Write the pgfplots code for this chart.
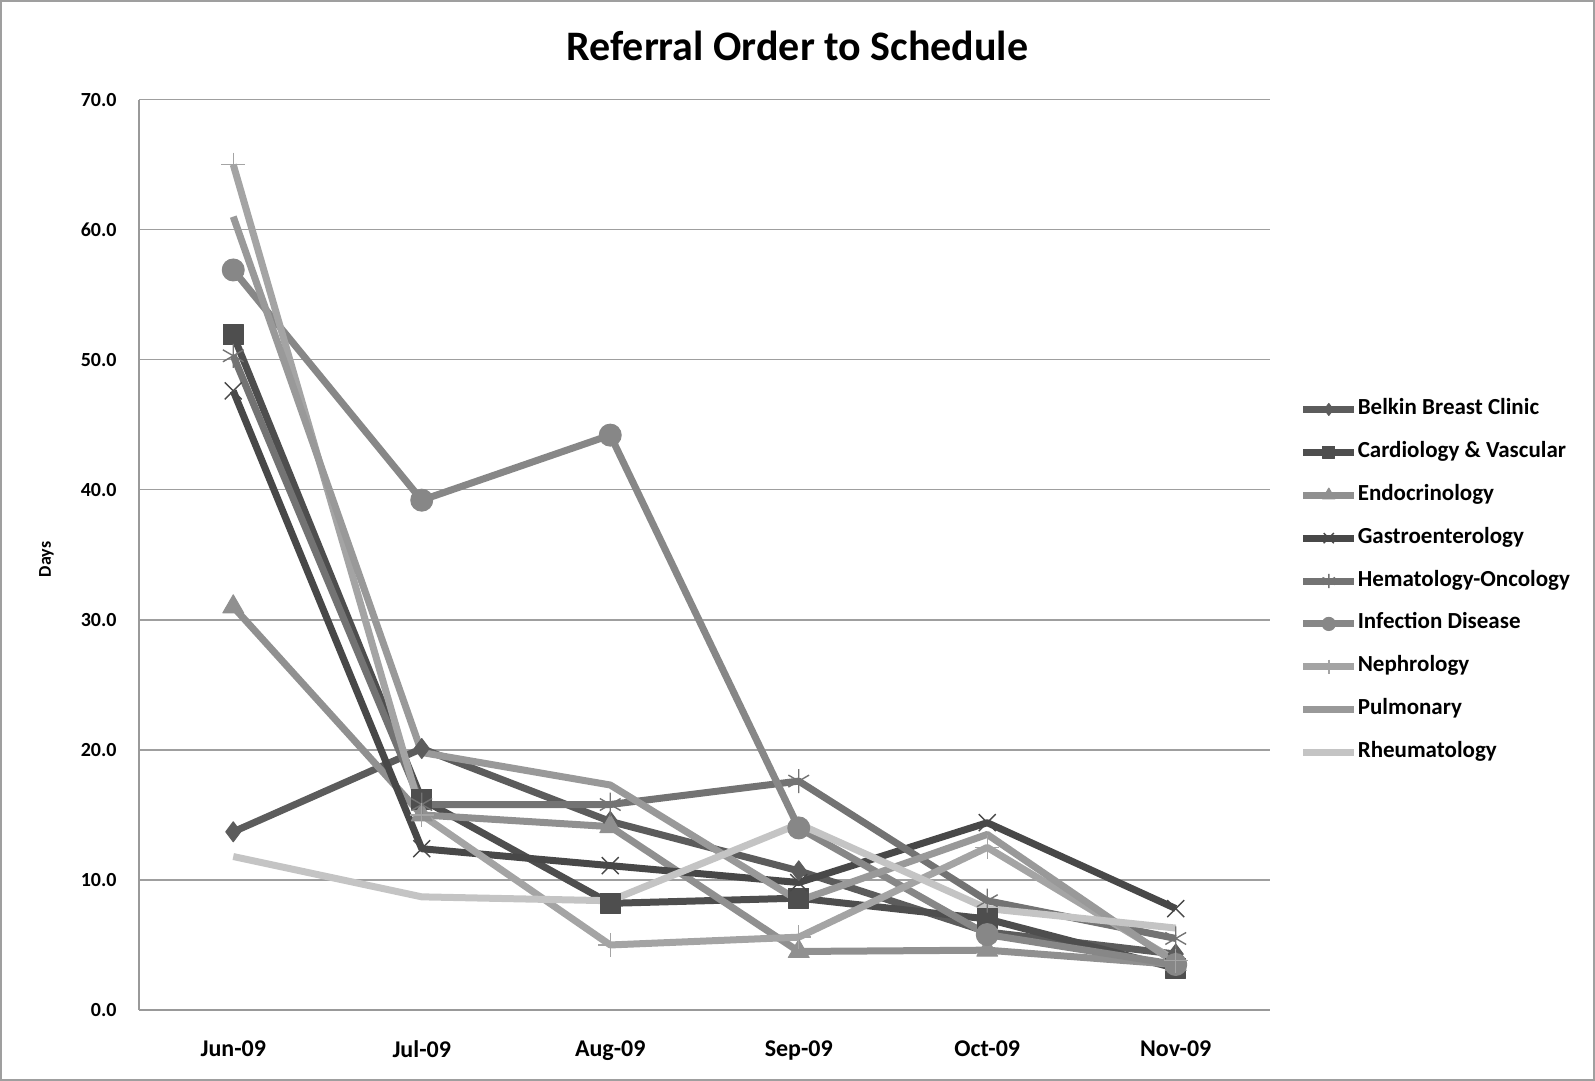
\documentclass[border=0pt]{standalone}
\usepackage{fontspec}
\setmainfont{Carlito}
\usepackage{pgfplots}
\pgfplotsset{compat=1.18}
\definecolor{cBel}{HTML}{5C5C5C}
\definecolor{cCar}{HTML}{4E4E4E}
\definecolor{cEnd}{HTML}{909090}
\definecolor{cGas}{HTML}{484848}
\definecolor{cHem}{HTML}{737373}
\definecolor{cInf}{HTML}{878787}
\definecolor{cNep}{HTML}{A4A4A4}
\definecolor{cPul}{HTML}{999999}
\definecolor{cRhe}{HTML}{C4C4C4}
\begin{document}
\begin{tikzpicture}[x=1pt,y=1pt]
\useasboundingbox (0,0) rectangle (797.5,540.5);
\draw[gray!75, line width=1pt] (0.5,0.5) rectangle (797,540);
\begin{axis}[
  at={(69.5pt,35.5pt)}, anchor=south west,
  scale only axis, width=565.5pt, height=455.2pt,
  xmin=-0.5, xmax=5.5, ymin=0, ymax=70,
  xtick={0,1,2,3,4,5},
  xticklabels={Jun-09,Jul-09,Aug-09,Sep-09,Oct-09,Nov-09},
  ytick={0,10,20,30,40,50,60,70},
  /pgf/number format/assume math mode=true,
  yticklabel={\pgfmathprintnumber[fixed,fixed zerofill,precision=1]{\tick}},
  yticklabel style={font=\bfseries\fontsize{10}{12}\selectfont, inner sep=0pt, xshift=-11pt},
  xticklabel style={font=\bfseries\fontsize{12}{14}\selectfont, inner sep=0pt, yshift=-15.2pt},
  major tick length=0pt,
  axis x line*=bottom, axis y line*=left,
  axis line style={gray!80, line width=0.8pt, -},
  ymajorgrids, grid style={gray!75, line width=0.7pt},
  ylabel={Days},
  ylabel style={font=\bfseries\fontsize{9}{11}\selectfont},
  every axis y label/.append style={at={(axis description cs:-0.0818,0.495)}, anchor=center},
  title={Referral Order to Schedule},
  title style={font=\bfseries\fontsize{21}{25}\selectfont, at={(axis description cs:0.5822,1.0457)}, anchor=center},
  legend style={at={(axis description cs:1.026,0.670)}, anchor=north west, draw=none, fill=none,
    inner sep=0pt, font=\bfseries\fontsize{11.5}{13}\selectfont, row sep=12.45pt,
    nodes={inner xsep=0pt, inner ysep=0pt, text height=7pt, text depth=2pt}},
  legend cell align=left,
  legend image code/.code={\draw[#1, mark repeat=2, mark phase=2, every mark/.append style={scale=0.6}] plot coordinates {(0pt,0pt) (12.75pt,0pt) (25.5pt,0pt)};},
  every axis plot/.append style={line width=3.5pt, line join=round},
]
\addplot[cBel, mark=diamond*, mark size=5pt, mark options={solid, fill=cBel, line width=0.5pt}] coordinates {(0,13.7) (1,20.1) (2,14.5) (3,10.7) (4,6.0) (5,4.3)};
\addlegendentry{Belkin Breast Clinic}
\addplot[cCar, mark=square*, mark size=5pt, mark options={solid, fill=cCar, line width=0.5pt}] coordinates {(0,51.9) (1,16.2) (2,8.2) (3,8.6) (4,7.0) (5,3.2)};
\addlegendentry{Cardiology \& Vascular}
\addplot[cEnd, mark=triangle*, mark size=6pt, mark options={solid, fill=cEnd, line width=0.5pt}] coordinates {(0,31.0) (1,15.0) (2,14.1) (3,4.5) (4,4.6) (5,3.5)};
\addlegendentry{Endocrinology}
\addplot[cGas, mark=x, mark size=6pt, mark options={solid, line width=0.7pt}] coordinates {(0,47.6) (1,12.4) (2,11.1) (3,9.8) (4,14.4) (5,7.8)};
\addlegendentry{Gastroenterology}
\addplot[cHem, mark=asterisk, mark size=6pt, mark options={solid, line width=0.7pt}] coordinates {(0,50.3) (1,15.8) (2,15.8) (3,17.6) (4,8.4) (5,5.5)};
\addlegendentry{Hematology-Oncology}
\addplot[cInf, mark=*, mark size=5.5pt, mark options={solid, fill=cInf, line width=0.5pt}] coordinates {(0,56.9) (1,39.2) (2,44.2) (3,14.0) (4,5.8) (5,3.5)};
\addlegendentry{Infection Disease}
\addplot[cNep, mark=+, mark size=6pt, mark options={solid, line width=0.7pt}] coordinates {(0,65.0) (1,15.0) (2,5.0) (3,5.6) (4,12.5) (5,3.8)};
\addlegendentry{Nephrology}
\addplot[cPul, no markers] coordinates {(0,61.0) (1,19.8) (2,17.3) (3,8.4) (4,13.5) (5,3.6)};
\addlegendentry{Pulmonary}
\addplot[cRhe, no markers] coordinates {(0,11.8) (1,8.7) (2,8.4) (3,14.3) (4,7.8) (5,6.3)};
\addlegendentry{Rheumatology}
\end{axis}
\end{tikzpicture}
\end{document}
